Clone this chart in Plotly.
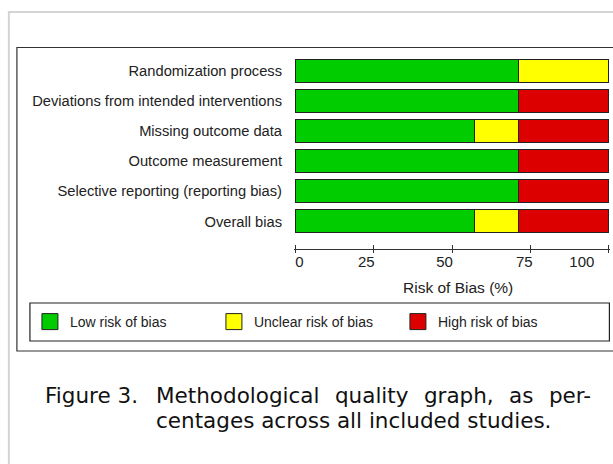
import plotly.graph_objects as go

# ---- data ----
domains = ["Randomization process", "Deviations from intended interventions",
           "Missing outcome data", "Outcome measurement",
           "Selective reporting (reporting bias)", "Overall bias"]
low_pct = [71.4, 71.4, 57.1, 71.4, 71.4, 57.1]
unclear_pct = [28.6, 0.0, 14.3, 0.0, 0.0, 14.3]
high_pct = [0.0, 28.6, 28.6, 28.6, 28.6, 28.6]
series_names = ["Low risk of bias", "Unclear risk of bias", "High risk of bias"]
series_colors = ["#00CC00", "#FFFF00", "#DD0000"]
x_ticks = [0, 25, 50, 75, 100]
x_tick_text = ["0", "25", "50", "75", "100"]
# where the tick numbers sit along the axis in the original (left/right aligned)
x_tick_label_pos = [1.2, 22.6, 47.6, 73.1, 91.5]

W, H = 613, 464
L, R, T, B = 294.4, 609.6, 56, 249   # plot area in page px


def px_x(p):                  # page px -> paper x
    return (p - L) / (R - L)


def px_y(p):                  # page px -> paper y
    return (B - p) / (B - T)


fig = go.Figure()
for name, vals, col in zip(series_names, [low_pct, unclear_pct, high_pct], series_colors):
    fig.add_trace(go.Bar(
        y=domains, x=vals, orientation="h", name=name,
        marker=dict(color=col, line=dict(color="#222222", width=1)),
        width=0.767, showlegend=False, hoverinfo="x+y"))
# legend proxies (large square swatches)
for name, col in zip(series_names, series_colors):
    fig.add_trace(go.Scatter(
        x=[None], y=[None], mode="markers", name=name,
        marker=dict(symbol="square", size=16, color=col,
                    line=dict(color="#222222", width=1)),
        showlegend=True))
# empty traces so the overlay axes (inner ticks, tick numbers) get drawn
for ax in ["x2", "x3"]:
    fig.add_trace(go.Scatter(x=[None], y=[None], xaxis=ax, yaxis="y", mode="markers",
                             showlegend=False, hoverinfo="skip"))

shapes = [
    # outer light-gray frame (left + top)
    dict(type="line", xref="paper", yref="paper", x0=px_x(10), x1=px_x(10),
         y0=px_y(11), y1=px_y(480), line=dict(color="#D4D4D4", width=2)),
    dict(type="line", xref="paper", yref="paper", x0=px_x(9), x1=px_x(640),
         y0=px_y(12), y1=px_y(12), line=dict(color="#D4D4D4", width=2)),
    # inner black frame
    dict(type="rect", xref="paper", yref="paper", x0=px_x(18), x1=px_x(660),
         y0=px_y(47.5), y1=px_y(351), line=dict(color="#333333", width=1.2)),
    # legend frame
    dict(type="rect", xref="paper", yref="paper", x0=px_x(31), x1=px_x(609),
         y0=px_y(303), y1=px_y(341), line=dict(color="#222222", width=1.2)),
]

CAP = 21.5
gap = " \u2009\u2009"
line1 = gap.join(["Methodological", "quality", "graph,", "as", "per-"])
line2 = "centages across all included studies."
cap_text = ('<span style="font-size:%gpx">' % CAP + line1 + '</span><br>'
            + '<span style="font-size:%gpx">' % CAP + line2 + '</span>')
annotations = [
    dict(text="Figure 3.", xref="paper", yref="paper", x=px_x(45), y=px_y(382),
         xanchor="left", yanchor="top", showarrow=False, borderpad=0,
         font=dict(family="DejaVu Sans", size=CAP, color="#111111")),
    dict(text=cap_text, xref="paper", yref="paper", x=px_x(156), y=px_y(382),
         xanchor="left", yanchor="top", align="left", showarrow=False, borderpad=0,
         font=dict(family="DejaVu Sans", size=19.3, color="#111111")),
    # axis title
    dict(text="Risk of Bias (%)", xref="paper", yref="paper", x=px_x(458), y=px_y(287),
         xanchor="center", yanchor="middle", showarrow=False,
         font=dict(size=15.5, color="#222222")),
]

fig.update_layout(
    width=W, height=H,
    margin=dict(l=L, r=W - R, t=T, b=H - B, pad=0),
    paper_bgcolor="white", plot_bgcolor="white",
    barmode="stack",
    hovermode="closest",
    font=dict(family="Liberation Sans, Arial, sans-serif", size=14, color="#222222"),
    xaxis=dict(range=[-0.5, 100.5], tickvals=x_ticks, ticks="outside", ticklen=3,
               tickwidth=1.2, tickcolor="#333333", showline=True, linecolor="#333333",
               linewidth=1.2, showgrid=False, zeroline=False, showticklabels=False),
    xaxis2=dict(range=[-0.5, 100.5], overlaying="x", anchor="y", side="bottom",
                tickvals=x_ticks, ticks="inside", ticklen=4, tickwidth=1.2,
                tickcolor="#333333", showticklabels=False, showgrid=False,
                zeroline=False, showline=False),
    xaxis3=dict(range=[-0.5, 100.5], overlaying="x", anchor="y", side="bottom",
                tickvals=x_tick_label_pos, ticktext=x_tick_text, ticks="",
                showticklabels=True, ticklabelstandoff=2, showgrid=False,
                zeroline=False, showline=False,
                tickfont=dict(size=15, color="#222222")),
    yaxis=dict(categoryorder="array", categoryarray=domains, range=[5.917, -0.5],
               showgrid=False, zeroline=False, ticks="", ticklabelstandoff=11,
               showline=False, tickfont=dict(size=14.7, color="#222222")),
    legend=dict(orientation="h", x=px_x(31), y=px_y(306), xanchor="left", yanchor="top",
                borderwidth=0, bgcolor="rgba(0,0,0,0)",
                font=dict(size=14, color="#222222"), entrywidth=139,
                entrywidthmode="pixels", itemsizing="trace", traceorder="normal"),
    shapes=shapes,
    annotations=annotations,
)

fig.write_html("out.html", config={"displayModeBar": False},
               post_script="document.body.style.margin='0';")
